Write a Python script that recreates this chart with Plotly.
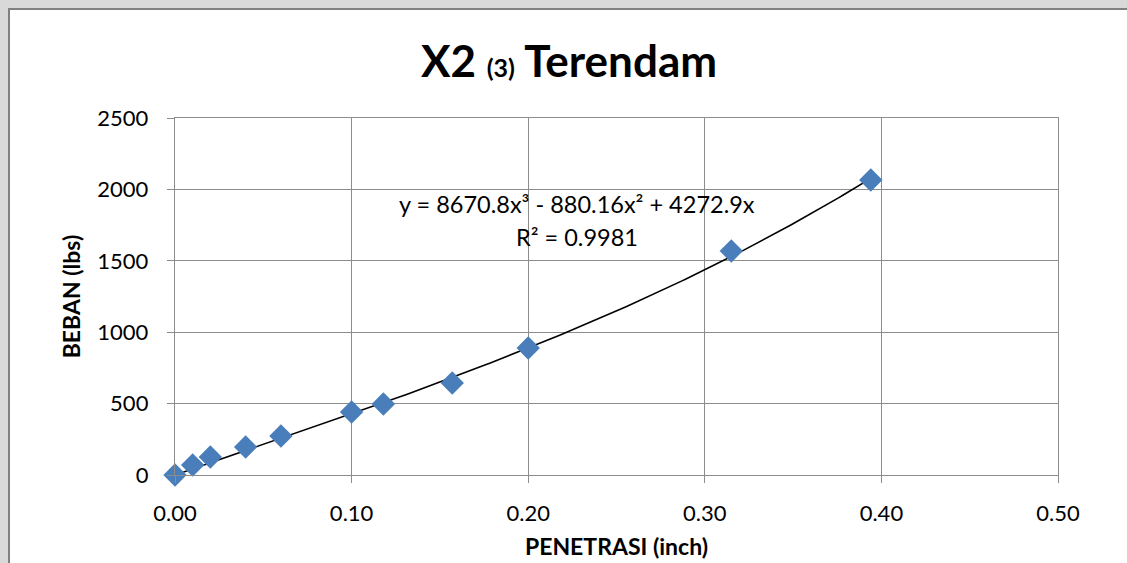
import numpy as np
import plotly.graph_objects as go

# Data
penetrasi = [0.0, 0.01, 0.02, 0.04, 0.06, 0.10, 0.118, 0.157, 0.20, 0.315, 0.394]
beban = [0, 70, 126, 196, 273, 441, 497, 644, 889, 1569, 2066]

# Trendline coefficients (as shown on chart): y = a x^3 + b x^2 + c x
coef_a, coef_b, coef_c = 8670.8, -880.16, 4272.9

x_ticks = [0.0, 0.1, 0.2, 0.3, 0.4, 0.5]
x_tick_labels = ["0.00", "0.10", "0.20", "0.30", "0.40", "0.50"]
y_ticks = [0, 500, 1000, 1500, 2000, 2500]

xt = np.linspace(0, max(penetrasi), 200)
yt = coef_a * xt**3 + coef_b * xt**2 + coef_c * xt

W, H = 1127, 563
L, R, T, B = 175, 69, 118, 88
pw, ph = W - L - R, H - T - B

def px_x(p):
    return (p - L) / pw

def px_y(p):
    return (H - B - p) / ph

FONT = "Lato"
GRID = "#8c8c8c"

fig = go.Figure()
fig.add_trace(go.Scatter(x=xt, y=yt, mode="lines",
                         line=dict(color="black", width=1.6),
                         hoverinfo="skip", showlegend=False, cliponaxis=False))
fig.add_trace(go.Scatter(x=penetrasi, y=beban, mode="markers",
                         marker=dict(symbol="diamond", size=18, color="#4A7EBB",
                                     line=dict(width=0)),
                         showlegend=False, cliponaxis=False))

fig.update_layout(
    width=W, height=H,
    margin=dict(l=L, r=R, t=T, b=B, autoexpand=False),
    paper_bgcolor="#d9d9d9",
    plot_bgcolor="white",
    font=dict(family=FONT, color="black", size=22),
    title=dict(text="<b>X2 <span style='font-size:25px'>(3)</span> Terendam</b>",
               x=569 / W, xanchor="center",
               y=1 - 62 / H, yanchor="middle",
               font=dict(family=FONT, size=44, color="black")),
    xaxis=dict(range=[0, 0.5], tickvals=x_ticks, ticktext=x_tick_labels,
               automargin=False,
               showgrid=True, gridcolor=GRID, gridwidth=1.4,
               showline=True, linecolor=GRID, linewidth=1.4, mirror=True,
               ticks="outside", ticklen=7, tickcolor=GRID, tickwidth=1.4,
               ticklabelstandoff=11,
               zeroline=False, tickfont=dict(size=22),
               title=dict(text="<b>PENETRASI (inch)</b>", font=dict(size=23), standoff=14)),
    yaxis=dict(range=[0, 2500], tickvals=y_ticks,
               automargin=False,
               showgrid=True, gridcolor=GRID, gridwidth=1.4,
               showline=True, linecolor=GRID, linewidth=1.4, mirror=True,
               ticks="outside", ticklen=7, tickcolor=GRID, tickwidth=1.4,
               ticklabelstandoff=14,
               zeroline=False, tickfont=dict(size=22),
               title=dict(text="<b>BEBAN (lbs)</b>", font=dict(size=23), standoff=10)),
    shapes=[dict(type="rect", xref="paper", yref="paper", layer="below",
                 x0=px_x(9), x1=px_x(W + 10), y0=px_y(H + 10), y1=px_y(9),
                 fillcolor="white", line=dict(color="#808080", width=2))],
    annotations=[
        dict(x=0.2276, y=1898, xref="x", yref="y", showarrow=False,
             text="y = 8670.8x³ - 880.16x² + 4272.9x",
             font=dict(size=23.5, family=FONT), xanchor="center", yanchor="middle"),
        dict(x=0.2276, y=1665, xref="x", yref="y", showarrow=False,
             text="R² = 0.9981",
             font=dict(size=23.5, family=FONT), xanchor="center", yanchor="middle"),
    ],
)

fig.write_html("out.html",
               config={"displayModeBar": False},
               post_script="document.body.style.margin='0';document.body.style.overflow='hidden';")
